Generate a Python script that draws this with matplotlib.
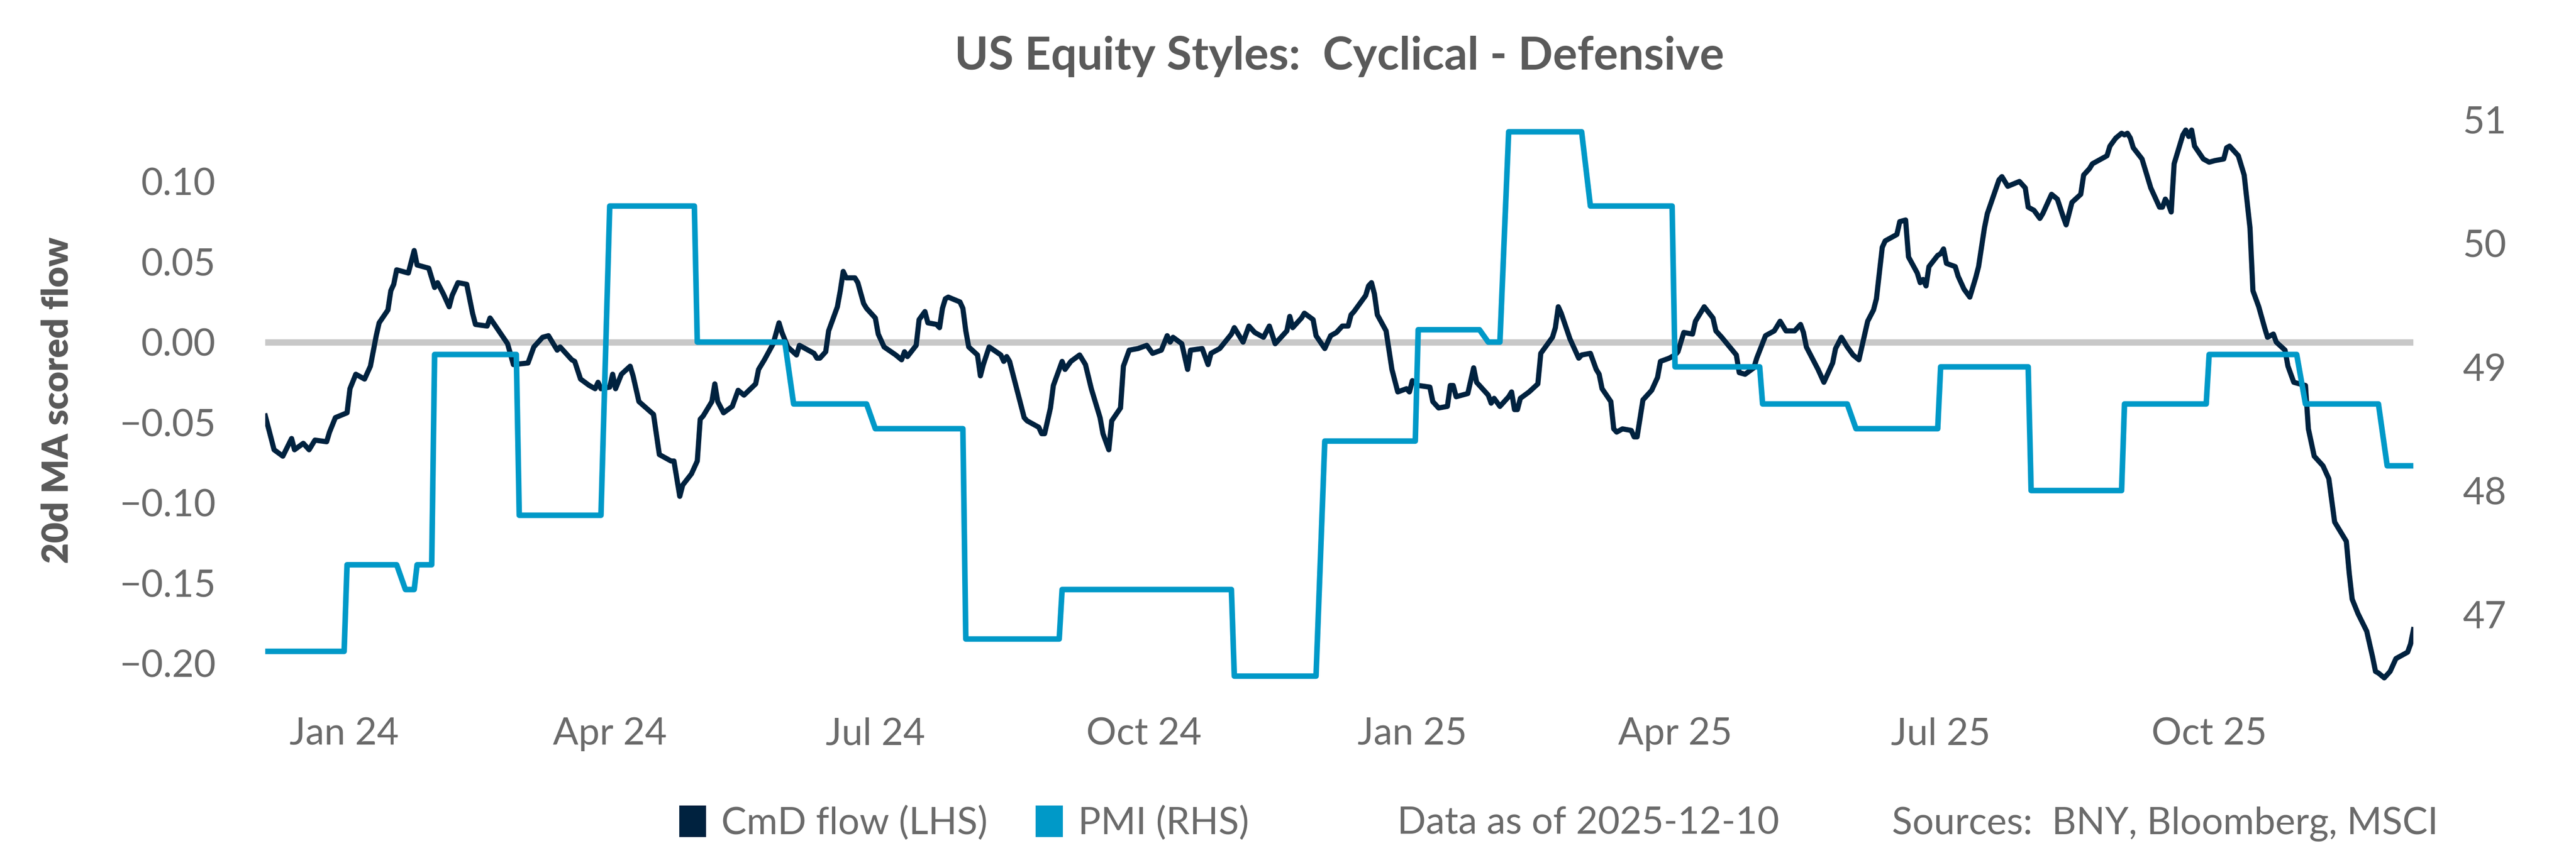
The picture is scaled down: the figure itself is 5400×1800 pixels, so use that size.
import pandas as pd
import matplotlib.pyplot as plt
import matplotlib.dates as mdates
from matplotlib.ticker import FuncFormatter
from matplotlib.patches import Patch

plt.rcParams['font.family'] = ['Lato', 'DejaVu Sans']

# Cyclical minus Defensive flow, 20d MA (left axis)
cmd_dates = [
    '2023-12-05', '2023-12-08', '2023-12-11', '2023-12-14', '2023-12-15', '2023-12-18',
    '2023-12-20', '2023-12-22', '2023-12-26', '2023-12-27', '2023-12-29',
    '2024-01-02', '2024-01-03', '2024-01-05', '2024-01-08', '2024-01-10', '2024-01-12',
    '2024-01-13', '2024-01-16', '2024-01-17', '2024-01-18', '2024-01-19', '2024-01-23',
    '2024-01-25', '2024-01-26', '2024-01-30', '2024-02-01', '2024-02-02', '2024-02-04',
    '2024-02-06', '2024-02-07', '2024-02-09', '2024-02-12', '2024-02-14', '2024-02-15',
    '2024-02-19', '2024-02-20', '2024-02-23', '2024-02-26', '2024-02-28', '2024-03-04',
    '2024-03-06', '2024-03-09', '2024-03-11', '2024-03-14', '2024-03-15', '2024-03-19',
    '2024-03-20', '2024-03-22', '2024-03-25', '2024-03-27', '2024-03-28', '2024-03-29',
    '2024-04-01', '2024-04-02', '2024-04-03', '2024-04-05', '2024-04-08', '2024-04-09',
    '2024-04-11', '2024-04-16', '2024-04-18', '2024-04-22', '2024-04-23', '2024-04-25',
    '2024-04-26', '2024-04-29', '2024-05-01', '2024-05-02', '2024-05-03', '2024-05-06',
    '2024-05-07', '2024-05-08', '2024-05-10', '2024-05-13', '2024-05-15', '2024-05-17',
    '2024-05-21', '2024-05-22', '2024-05-24', '2024-05-27', '2024-05-29', '2024-05-30',
    '2024-06-01', '2024-06-04', '2024-06-05', '2024-06-07', '2024-06-10', '2024-06-11',
    '2024-06-12', '2024-06-14', '2024-06-15', '2024-06-17', '2024-06-18', '2024-06-19',
    '2024-06-20', '2024-06-21', '2024-06-24', '2024-06-25', '2024-06-27', '2024-06-28',
    '2024-07-01', '2024-07-02', '2024-07-04', '2024-07-08', '2024-07-10', '2024-07-11',
    '2024-07-12', '2024-07-15', '2024-07-16', '2024-07-18', '2024-07-19', '2024-07-22',
    '2024-07-23', '2024-07-24', '2024-07-25', '2024-07-26', '2024-07-30', '2024-07-31',
    '2024-08-01', '2024-08-02', '2024-08-05', '2024-08-06', '2024-08-07', '2024-08-09',
    '2024-08-13', '2024-08-14', '2024-08-15', '2024-08-16', '2024-08-18', '2024-08-21',
    '2024-08-22', '2024-08-26', '2024-08-27', '2024-08-28', '2024-08-30', '2024-08-31',
    '2024-09-03', '2024-09-04', '2024-09-06', '2024-09-09', '2024-09-11', '2024-09-13',
    '2024-09-16', '2024-09-17', '2024-09-19', '2024-09-20', '2024-09-23', '2024-09-24',
    '2024-09-26', '2024-09-29', '2024-10-02', '2024-10-04', '2024-10-07', '2024-10-09',
    '2024-10-10', '2024-10-11', '2024-10-14', '2024-10-16', '2024-10-17', '2024-10-21',
    '2024-10-23', '2024-10-24', '2024-10-27', '2024-10-31', '2024-11-01', '2024-11-04',
    '2024-11-06', '2024-11-08', '2024-11-11', '2024-11-13', '2024-11-15', '2024-11-19',
    '2024-11-20', '2024-11-21', '2024-11-24', '2024-11-25', '2024-11-28', '2024-11-29',
    '2024-12-02', '2024-12-04', '2024-12-06', '2024-12-08', '2024-12-10', '2024-12-11',
    '2024-12-12', '2024-12-14', '2024-12-16', '2024-12-17', '2024-12-18', '2024-12-19',
    '2024-12-20', '2024-12-23', '2024-12-25', '2024-12-27', '2024-12-30', '2024-12-31',
    '2025-01-01', '2025-01-03', '2025-01-07', '2025-01-08', '2025-01-10', '2025-01-13',
    '2025-01-14', '2025-01-15', '2025-01-16', '2025-01-20', '2025-01-22', '2025-01-23',
    '2025-01-27', '2025-01-28', '2025-01-29', '2025-01-31', '2025-02-03', '2025-02-04',
    '2025-02-05', '2025-02-06', '2025-02-07', '2025-02-10', '2025-02-13', '2025-02-14',
    '2025-02-18', '2025-02-19', '2025-02-20', '2025-02-21', '2025-02-24', '2025-02-27',
    '2025-02-28', '2025-03-03', '2025-03-05', '2025-03-06', '2025-03-07', '2025-03-10',
    '2025-03-11', '2025-03-12', '2025-03-14', '2025-03-17', '2025-03-18', '2025-03-19',
    '2025-03-21', '2025-03-24', '2025-03-26', '2025-03-27', '2025-03-30', '2025-04-01',
    '2025-04-02', '2025-04-04', '2025-04-07', '2025-04-08', '2025-04-11', '2025-04-14',
    '2025-04-15', '2025-04-17', '2025-04-22', '2025-04-23', '2025-04-25', '2025-04-28',
    '2025-04-29', '2025-05-02', '2025-05-05', '2025-05-07', '2025-05-09', '2025-05-12',
    '2025-05-14', '2025-05-15', '2025-05-16', '2025-05-20', '2025-05-22', '2025-05-25',
    '2025-05-26', '2025-05-28', '2025-05-30', '2025-06-01', '2025-06-03', '2025-06-04',
    '2025-06-06', '2025-06-08', '2025-06-09', '2025-06-10', '2025-06-11', '2025-06-12',
    '2025-06-16', '2025-06-17', '2025-06-19', '2025-06-20', '2025-06-23', '2025-06-24',
    '2025-06-25', '2025-06-26', '2025-06-27', '2025-06-30', '2025-07-01', '2025-07-02',
    '2025-07-03', '2025-07-06', '2025-07-07', '2025-07-09', '2025-07-11', '2025-07-13',
    '2025-07-14', '2025-07-16', '2025-07-17', '2025-07-21', '2025-07-22', '2025-07-24',
    '2025-07-28', '2025-07-30', '2025-07-31', '2025-08-02', '2025-08-04', '2025-08-05',
    '2025-08-07', '2025-08-08', '2025-08-10', '2025-08-12', '2025-08-13', '2025-08-14',
    '2025-08-15', '2025-08-18', '2025-08-19', '2025-08-21', '2025-08-22', '2025-08-24',
    '2025-08-27', '2025-08-28', '2025-08-30', '2025-09-01', '2025-09-02', '2025-09-03',
    '2025-09-04', '2025-09-05', '2025-09-08', '2025-09-10', '2025-09-11', '2025-09-14',
    '2025-09-15', '2025-09-16', '2025-09-17', '2025-09-18', '2025-09-19', '2025-09-22',
    '2025-09-23', '2025-09-24', '2025-09-25', '2025-09-26', '2025-09-29', '2025-10-01',
    '2025-10-03', '2025-10-06', '2025-10-07', '2025-10-08', '2025-10-11', '2025-10-13',
    '2025-10-15', '2025-10-16', '2025-10-18', '2025-10-20', '2025-10-21', '2025-10-23',
    '2025-10-24', '2025-10-27', '2025-10-28', '2025-10-30', '2025-11-03', '2025-11-04',
    '2025-11-06', '2025-11-09', '2025-11-11', '2025-11-13', '2025-11-17', '2025-11-18',
    '2025-11-19', '2025-11-21', '2025-11-24', '2025-11-26', '2025-11-27', '2025-11-28',
    '2025-11-30', '2025-12-02', '2025-12-04', '2025-12-08', '2025-12-09', '2025-12-10',
]
cmd_values = [
    -0.046, -0.067, -0.071, -0.060, -0.067, -0.063,
    -0.067, -0.061, -0.062, -0.056, -0.047,
    -0.044, -0.029, -0.020, -0.023, -0.015, 0.004,
    0.012, 0.020, 0.032, 0.036, 0.045, 0.043,
    0.057, 0.048, 0.046, 0.034, 0.037, 0.030,
    0.022, 0.029, 0.037, 0.036, 0.018, 0.011,
    0.010, 0.015, 0.007, -0.001, -0.014, -0.013,
    -0.003, 0.003, 0.004, -0.005, -0.003, -0.011,
    -0.012, -0.023, -0.027, -0.029, -0.025, -0.029,
    -0.028, -0.020, -0.029, -0.020, -0.015, -0.021,
    -0.037, -0.045, -0.070, -0.074, -0.074, -0.096,
    -0.089, -0.082, -0.074, -0.048, -0.046, -0.037,
    -0.026, -0.037, -0.044, -0.040, -0.030, -0.033,
    -0.026, -0.017, -0.011, -0.001, 0.012, 0.006,
    -0.003, -0.008, -0.002, -0.004, -0.007, -0.010,
    -0.010, -0.006, 0.007, 0.017, 0.022, 0.032,
    0.044, 0.040, 0.040, 0.037, 0.024, 0.021,
    0.015, 0.005, -0.003, -0.008, -0.011, -0.006,
    -0.009, -0.002, 0.014, 0.019, 0.012, 0.011,
    0.009, 0.021, 0.027, 0.028, 0.025, 0.021,
    0.007, -0.003, -0.008, -0.021, -0.014, -0.003,
    -0.008, -0.012, -0.009, -0.012, -0.026, -0.047,
    -0.049, -0.053, -0.057, -0.057, -0.041, -0.027,
    -0.012, -0.017, -0.012, -0.008, -0.014, -0.029,
    -0.047, -0.057, -0.067, -0.049, -0.041, -0.015,
    -0.005, -0.004, -0.002, -0.007, -0.005, 0.004,
    0.000, 0.003, -0.001, -0.017, -0.005, -0.004,
    -0.014, -0.007, -0.004, 0.005, 0.009, 0.000,
    0.010, 0.006, 0.003, 0.010, -0.001, 0.007,
    0.016, 0.009, 0.015, 0.018, 0.014, 0.004,
    -0.004, 0.004, 0.006, 0.010, 0.010, 0.017,
    0.019, 0.024, 0.029, 0.035, 0.037, 0.030,
    0.017, 0.007, -0.017, -0.031, -0.029, -0.031,
    -0.024, -0.027, -0.028, -0.037, -0.041, -0.040,
    -0.027, -0.027, -0.034, -0.032, -0.016, -0.025,
    -0.033, -0.038, -0.035, -0.040, -0.034, -0.031,
    -0.042, -0.042, -0.035, -0.031, -0.026, -0.007,
    0.003, 0.009, 0.022, 0.018, 0.002, -0.010,
    -0.008, -0.007, -0.017, -0.020, -0.029, -0.037,
    -0.054, -0.056, -0.054, -0.055, -0.059, -0.059,
    -0.036, -0.030, -0.022, -0.012, -0.010, -0.008,
    -0.006, 0.006, 0.005, 0.013, 0.022, 0.015,
    0.007, 0.003, -0.008, -0.019, -0.020, -0.016,
    -0.010, 0.004, 0.007, 0.013, 0.007, 0.007,
    0.011, 0.006, -0.003, -0.017, -0.025, -0.013,
    -0.004, 0.003, -0.003, -0.008, -0.011, -0.003,
    0.013, 0.020, 0.027, 0.043, 0.059, 0.063,
    0.067, 0.075, 0.076, 0.053, 0.043, 0.037,
    0.039, 0.035, 0.047, 0.054, 0.055, 0.058,
    0.049, 0.047, 0.041, 0.033, 0.028, 0.040,
    0.047, 0.071, 0.080, 0.101, 0.103, 0.097,
    0.100, 0.096, 0.084, 0.082, 0.077, 0.080,
    0.088, 0.092, 0.089, 0.078, 0.073, 0.080,
    0.087, 0.092, 0.104, 0.108, 0.111, 0.113,
    0.116, 0.122, 0.127, 0.130, 0.129, 0.130,
    0.127, 0.121, 0.114, 0.102, 0.096, 0.084,
    0.084, 0.089, 0.086, 0.081, 0.111, 0.129,
    0.132, 0.128, 0.132, 0.122, 0.114, 0.112,
    0.113, 0.114, 0.121, 0.122, 0.116, 0.104,
    0.071, 0.032, 0.022, 0.009, 0.003, 0.005,
    0.000, -0.005, -0.015, -0.025, -0.027, -0.054,
    -0.071, -0.077, -0.085, -0.112, -0.124, -0.144,
    -0.160, -0.169, -0.180, -0.196, -0.205, -0.206,
    -0.209, -0.205, -0.197, -0.193, -0.188, -0.179,
]

# ISM manufacturing PMI (right axis), value from each release date on
pmi_dates = [
    '2023-12-05', '2024-01-02', '2024-01-22', '2024-01-26', '2024-02-01', '2024-03-01',
    '2024-04-01', '2024-05-01', '2024-06-03', '2024-07-01', '2024-08-01', '2024-09-03',
    '2024-11-01', '2024-12-02', '2025-01-03', '2025-01-27', '2025-02-03', '2025-03-03',
    '2025-04-01', '2025-05-01', '2025-06-02', '2025-07-01', '2025-08-01', '2025-09-02',
    '2025-10-01', '2025-11-03', '2025-12-01',
]
pmi_values = [
    46.7, 47.4, 47.2, 47.4, 49.1, 47.8,
    50.3, 49.2, 48.7, 48.5, 46.8, 47.2,
    46.5, 48.4, 49.3, 49.2, 50.9, 50.3,
    49.0, 48.7, 48.5, 49.0, 48.0, 48.7,
    49.1, 48.7, 48.2,
]

left_ticks = [-0.20, -0.15, -0.10, -0.05, 0.00, 0.05, 0.10]
right_ticks = [47, 48, 49, 50, 51]

navy = '#00223f'
blue = '#0099c8'
grey_text = '#6a6a6a'

cmd_x = pd.to_datetime(cmd_dates)
days = pd.bdate_range(cmd_x[0], cmd_x[-1])
pmi = pd.Series(pmi_values, index=pd.to_datetime(pmi_dates)).reindex(days, method='ffill')

fig = plt.figure(figsize=(18, 6), dpi=300)
ax = fig.add_axes([0.1030, 0.1944, 0.8339, 0.6778])
ax2 = ax.twinx()

ax.axhline(0, color='#c8c8c8', lw=3.2, zorder=1)
ax.plot(cmd_x, cmd_values, color=navy, lw=2.6, zorder=3)
ax2.plot(pmi.index, pmi.values, color=blue, lw=2.8)

ax.set_xlim(cmd_x[0], cmd_x[-1])
ax.set_ylim(-0.2173, 0.1447)
ax2.set_ylim(46.378, 51.079)

ax.set_yticks(left_ticks)
ax.yaxis.set_major_formatter(FuncFormatter(lambda v, p: f'{v:.2f}'.replace('-', '\u2212')))
ax2.set_yticks(right_ticks)
ax.xaxis.set_major_locator(mdates.MonthLocator(bymonth=[1, 4, 7, 10]))
ax.xaxis.set_major_formatter(mdates.DateFormatter('%b %y'))

for a in (ax, ax2):
    for s in a.spines.values():
        s.set_visible(False)
ax.tick_params(axis='y', length=0, pad=25, labelsize=19, labelcolor=grey_text)
ax.tick_params(axis='x', length=0, pad=13, labelsize=19, labelcolor=grey_text)
ax2.tick_params(axis='y', length=0, pad=24.7, labelsize=19, labelcolor=grey_text)

ax.set_ylabel('20d MA scored flow', fontsize=18, fontweight='heavy', color='#595959')
ax.yaxis.set_label_coords(-0.089, 0.5)

fig.text(0.5199, 0.934, 'US Equity Styles:  Cyclical - Defensive', ha='center', va='center',
         fontsize=23, fontweight='bold', color='#5a5a5a')

handles = [Patch(color=navy, label='CmD flow (LHS)'), Patch(color=blue, label='PMI (RHS)')]
fig.legend(handles=handles, loc='center left', bbox_to_anchor=(0.2641, 0.04), ncol=2,
           frameon=False, fontsize=19, labelcolor=grey_text, handlelength=0.66,
           handleheight=0.83, handletextpad=0.43, columnspacing=1.3,
           borderpad=0, borderaxespad=0)
fig.text(0.5424, 0.04, 'Data as of 2025-12-10', ha='left', va='center', fontsize=19, color=grey_text)
fig.text(0.7344, 0.04, 'Sources:  BNY, Bloomberg, MSCI', ha='left', va='center', fontsize=19,
         color=grey_text)

fig.savefig('out.png', dpi=300)
